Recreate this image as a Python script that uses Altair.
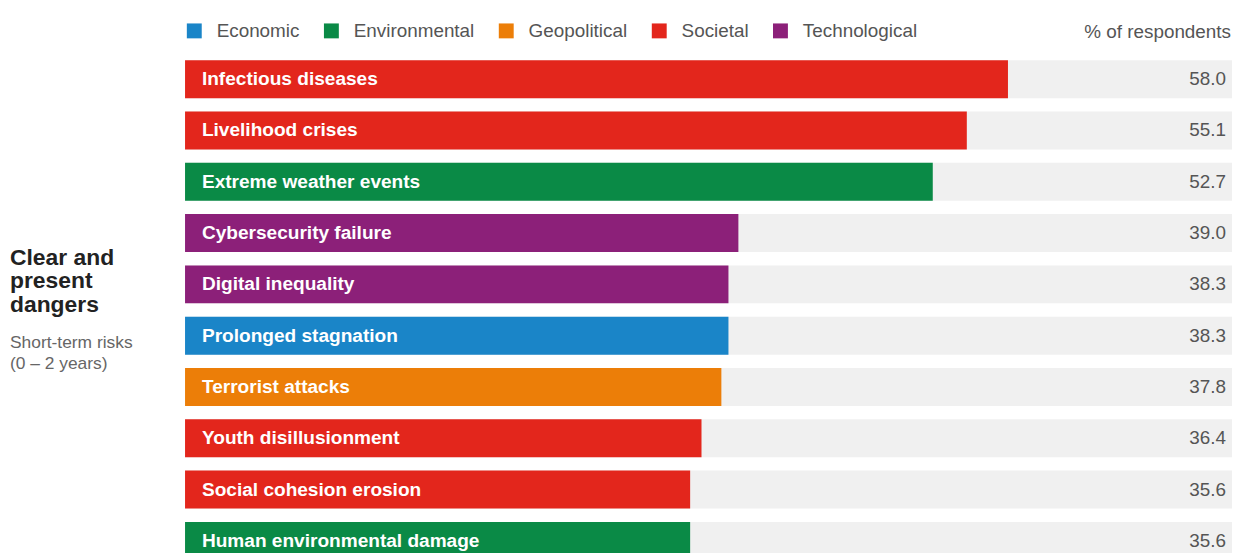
import altair as alt
import pandas as pd

risks = ["Infectious diseases", "Livelihood crises", "Extreme weather events",
         "Cybersecurity failure", "Digital inequality", "Prolonged stagnation",
         "Terrorist attacks", "Youth disillusionment", "Social cohesion erosion",
         "Human environmental damage"]
values = [58.0, 55.1, 52.7, 39.0, 38.3, 38.3, 37.8, 36.4, 35.6, 35.6]
categories = ["Societal", "Societal", "Environmental", "Technological", "Technological",
              "Economic", "Geopolitical", "Societal", "Societal", "Environmental"]

cat_names = ["Economic", "Environmental", "Geopolitical", "Societal", "Technological"]
cat_colors = ["#1a85c8", "#0a8a46", "#ec7e08", "#e3261c", "#8c2079"]

df = pd.DataFrame({"risk": risks, "value": values, "category": categories,
                   "label": [f"{v:.1f}" for v in values]})

FONT = "Liberation Sans"
X_MAX = 73.79

xscale = alt.Scale(domain=[0, X_MAX], range=[178.2, 1232], nice=False, zero=True)
yscale = alt.Scale(domain=risks, range=[44.0, 560.4], paddingInner=0.26, paddingOuter=0.13)

base = alt.Chart(df)

track = base.mark_bar(color="#f0f0f0", cornerRadius=0).encode(
    x=alt.X("xs:Q", scale=xscale, axis=None),
    x2=alt.datum(X_MAX),
    y=alt.Y("risk:N", scale=yscale, axis=None, sort=risks),
).transform_calculate(xs="0")

bars = base.mark_bar(cornerRadius=0).encode(
    x=alt.X("value:Q", scale=xscale, axis=None),
    y=alt.Y("risk:N", scale=yscale, axis=None, sort=risks),
    color=alt.Color("category:N",
                    scale=alt.Scale(domain=cat_names, range=cat_colors),
                    legend=alt.Legend(orient="none", legendX=178, legendY=11.5,
                                      direction="horizontal", title=None,
                                      symbolType="square", symbolSize=225,
                                      symbolStrokeWidth=0, symbolOpacity=1,
                                      labelFont=FONT, labelFontSize=19,
                                      labelColor="#555555", labelOffset=13,
                                      columnPadding=22, padding=0)),
)

bar_labels = base.mark_text(align="left", baseline="middle", dx=17, font=FONT,
                            fontSize=19.2, fontWeight="bold", color="white").encode(
    x=alt.X("xs:Q", scale=xscale, axis=None),
    y=alt.Y("risk:N", scale=yscale, axis=None, sort=risks),
    text="risk:N",
).transform_calculate(xs="0")

value_labels = base.mark_text(align="right", baseline="middle", font=FONT,
                              fontSize=19, color="#555555").encode(
    x=alt.value(1226),
    y=alt.Y("risk:N", scale=yscale, axis=None, sort=risks),
    text="label:N",
)

header = alt.Chart(pd.DataFrame({"t": ["% of respondents"]})).mark_text(
    align="right", baseline="middle", font=FONT, fontSize=19, color="#555555").encode(
    x=alt.value(1231), y=alt.value(22.5), text="t:N")

title = alt.Chart(pd.DataFrame({"t": ["Clear and\npresent\ndangers"]})).mark_text(
    align="left", baseline="alphabetic", font=FONT, fontSize=23, fontWeight="bold",
    color="#222222", lineBreak="\n", lineHeight=24).encode(
    x=alt.value(2), y=alt.value(256.5), text="t:N")

subtitle = alt.Chart(pd.DataFrame({"t": ["Short-term risks\n(0 \u2013 2 years)"]})).mark_text(
    align="left", baseline="alphabetic", font=FONT, fontSize=17.5,
    color="#666666", lineBreak="\n", lineHeight=22).encode(
    x=alt.value(2), y=alt.value(340), text="t:N")

chart = alt.layer(track, bars, bar_labels, value_labels, header, title, subtitle).properties(
    width=1232, height=550, padding=0, autosize=alt.AutoSizeParams(type="none"),
    background="white",
).configure_view(stroke=None)

chart.save("out.html", embed_options={"renderer": "svg", "actions": False})
